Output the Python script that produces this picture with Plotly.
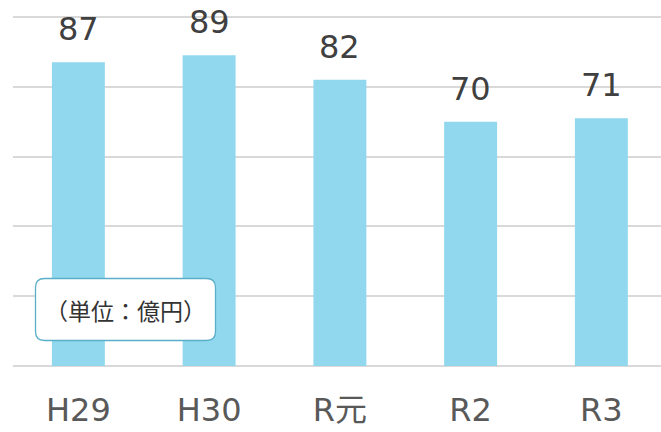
import plotly.graph_objects as go

# Yearly amounts (unit: 100 million yen)
years = ["H29", "H30", "R元", "R2", "R3"]
amounts = [87, 89, 82, 70, 71]
y_ticks = [0, 20, 40, 60, 80, 100]
unit_label = "（単位：億円）"

W, H = 661, 432
M_L, M_R, M_T, M_B = 13, 0, 10, 66
PW, PH = W - M_L - M_R, H - M_T - M_B

BAR_COLOR = "#91D8EF"
GRID_COLOR = "#D9D9D9"
LATIN = "DejaVu Sans, Noto Sans CJK JP, sans-serif"
CJK = "Noto Sans CJK JP, sans-serif"


def px_to_paper(x, y):
    return (x - M_L) / PW, 1 - (y - M_T) / PH


fig = go.Figure(
    go.Bar(
        x=list(range(len(years))),
        y=amounts,
        width=0.405,
        marker=dict(color=BAR_COLOR, line=dict(width=0)),
        hoverinfo="skip",
    )
)

# value labels above each bar
for i, v in enumerate(amounts):
    fig.add_annotation(
        x=i, y=v, xref="x", yref="y",
        text=str(v), showarrow=False,
        yanchor="bottom", yshift=12,
        font=dict(family=LATIN, size=32, color="#404040"),
    )

# rounded unit box
x0, y0, x1, y1, r = 35.5, 278.5, 215.5, 340.5, 9


def P(x, y):
    px, py = px_to_paper(x, y)
    return f"{px:.5f},{py:.5f}"


path = (
    f"M {P(x0 + r, y0)} L {P(x1 - r, y0)} Q {P(x1, y0)} {P(x1, y0 + r)} "
    f"L {P(x1, y1 - r)} Q {P(x1, y1)} {P(x1 - r, y1)} "
    f"L {P(x0 + r, y1)} Q {P(x0, y1)} {P(x0, y1 - r)} "
    f"L {P(x0, y0 + r)} Q {P(x0, y0)} {P(x0 + r, y0)} Z"
)
fig.add_shape(
    type="path", path=path, xref="paper", yref="paper",
    fillcolor="white", line=dict(color="#5AAFC8", width=1.3), layer="above",
)
cx, cy = px_to_paper((x0 + x1) / 2, (y0 + y1) / 2)
fig.add_annotation(
    x=cx, y=cy, xref="paper", yref="paper", text=unit_label, showarrow=False,
    xanchor="center", yanchor="middle",
    font=dict(family=CJK, size=23, color="#333333"),
)

fig.update_layout(
    width=W, height=H,
    margin=dict(l=M_L, r=M_R, t=M_T, b=M_B),
    paper_bgcolor="white", plot_bgcolor="white",
    showlegend=False,
    xaxis=dict(
        range=[-0.5, -0.5 + PW / 130.75],
        tickmode="array", tickvals=list(range(len(years))), ticktext=years,
        tickfont=dict(family=LATIN, size=32, color="#595959"),
        showgrid=False, zeroline=False, showline=False, automargin=False,
        ticks="outside", ticklen=16, tickcolor="rgba(0,0,0,0)",
    ),
    yaxis=dict(
        range=[0, 102], tickvals=y_ticks, showticklabels=False,
        showgrid=True, gridcolor=GRID_COLOR, gridwidth=2,
        zeroline=True, zerolinecolor=GRID_COLOR, zerolinewidth=2,
        showline=False, ticks="", automargin=False,
    ),
)

fig.write_html("out.html")
